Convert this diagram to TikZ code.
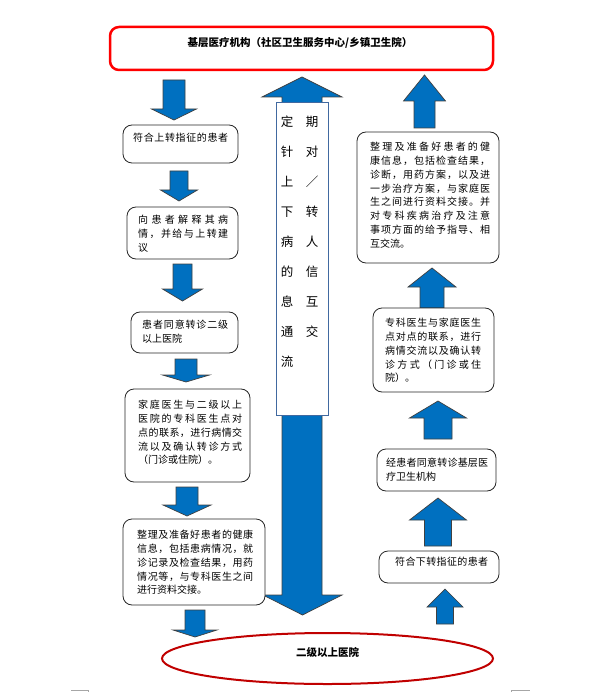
\documentclass[tikz,border=0pt]{standalone}
\usepackage{fontspec}
\setmainfont{Noto Sans CJK SC}
\definecolor{blu}{RGB}{0,112,192}
\definecolor{redt}{RGB}{255,0,0}
\definecolor{redd}{RGB}{192,0,0}
\definecolor{edgeb}{RGB}{65,105,160}
\def\jlend{}
\def\jlfirst#1{#1\jlrest}
\def\jlrest#1{\ifx#1\jlend\else\hfil#1\expandafter\jlrest\fi}
\newcommand\jl[2]{\makebox[#1pt][s]{\jlfirst#2\jlend}}
\newcommand\bodyfont{\fontsize{10}{13.8}\selectfont}
\newcommand\barrow[6]{\filldraw[blockarrow] (#1-#5,#2) -- (#1+#5,#2) -- (#1+#5,#3) -- (#1+#6,#3) -- (#1,#4) -- (#1-#6,#3) -- (#1-#5,#3) -- cycle;}
\tikzset{
  blockarrow/.style={fill=blu, draw=black!75, line width=0.7pt, line join=miter},
  rbox/.style={draw=black!85, line width=0.8pt, rounded corners=9pt, fill=white, inner sep=0pt},
  txt/.style={anchor=north west, align=left, inner sep=0pt, font=\bodyfont},
  vchar/.style={inner sep=0pt, font=\fontsize{12.5}{14}\selectfont},
}
\begin{document}
\begin{tikzpicture}[x=1pt,y=-1pt]
\useasboundingbox (0,0) rectangle (595,692);
% block arrows (left column)
\barrow{174}{80}{109}{120}{11}{22.5}
\barrow{179}{171}{190}{201}{9}{18.5}
\barrow{182.5}{264}{289}{301}{9.5}{20}
\barrow{186}{359}{375}{382}{11}{23.5}
\barrow{187}{487}{505}{516}{11}{24}
\barrow{195}{610}{630}{637}{10}{22}
% block arrows (right column)
\barrow{424.5}{128}{101}{75}{10.5}{21}
\barrow{432}{308}{287}{268}{12}{24}
\barrow{438}{439}{418}{401}{14}{28.5}
\barrow{438}{546}{520}{498}{13.5}{28.5}
\barrow{445}{624}{607}{589}{8.5}{18}
% central double arrow
\filldraw[blockarrow] (282,97) -- (262,97) -- (302,77) -- (342,97) -- (322,97) -- (322,595) -- (342,595) -- (302.5,615) -- (263,595) -- (282,595) -- cycle;
\node[draw=edgeb, fill=white, line width=0.8pt, minimum width=52pt, minimum height=313pt, inner sep=0pt] (vbox) at (302,258.5) {};
\foreach \c [count=\i] in {定,针,上,下,病,的,息,通,流}
  \node[vchar] (vl\i) at (287,92+30*\i) {\c};
\foreach \c [count=\i] in {期,对,／,转,人,信,互,交}
  \node[vchar] (vr\i) at (312,92+30*\i) {\c};
% top box
\node[draw=redt, line width=2.5pt, rounded corners=9pt, minimum width=383pt, minimum height=43pt, inner sep=0pt] (top) at (301.5,48.5) {};
\node[inner sep=0pt, font=\fontsize{10.5}{12}\selectfont\bfseries] (toptxt) at (300,43) {基层医疗机构（社区卫生服务中心/乡镇卫生院）};
% bottom ellipse
\draw[redd, line width=2pt] (327.5,658.5) ellipse [x radius=165.5, y radius=25.5];
\node[inner sep=0pt, font=\fontsize{10.5}{12}\selectfont\bfseries] (bottxt) at (327.5,652) {二级以上医院};
% left boxes
\node[rbox, minimum width=115pt, minimum height=38pt] (L1) at (180.5,144) {};
\node[txt] (L1t) at (133,133) {\jl{95}{符合上转指征的患者}};
\node[rbox, minimum width=111pt, minimum height=52pt] (L2) at (182.5,233) {};
\node[txt] (L2t) at (138,215) {\jl{90}{向患者解释其病}\\\jl{90}{情，并给与上转建}\\议};
\node[rbox, minimum width=107pt, minimum height=41pt] (L3) at (184.5,332.5) {};
\node[txt] (L3t) at (142,320) {\jl{86}{患者同意转诊二级}\\以上医院};
\node[rbox, minimum width=125pt, minimum height=93pt] (L4) at (187.5,435.5) {};
\node[txt] (L4t) at (138,400) {\jl{104}{家庭医生与二级以上}\\\jl{104}{医院的专科医生点对}\\\jl{104}{点的联系，进行病情交}\\\jl{104}{流以及确认转诊方式}\\（门诊或住院）。};
\node[rbox, minimum width=142pt, minimum height=86pt] (L5) at (194,562) {};
\node[txt] (L5t) at (137,530) {\jl{116}{整理及准备好患者的健康}\\\jl{116}{信息，包括患病情况，就}\\\jl{116}{诊记录及检查结果，用药}\\\jl{116}{情况等，与专科医生之间}\\进行资料交接。};
% right boxes
\node[rbox, minimum width=142pt, minimum height=131pt] (R1) at (428,197.5) {};
\node[txt] (R1t) at (370,142) {\jl{120}{整理及准备好患者的健}\\\jl{120}{康信息，包括检查结果，}\\\jl{120}{诊断，用药方案，以及进}\\\jl{120}{一步治疗方案，与家庭医}\\\jl{120}{生之间进行资料交接。并}\\\jl{120}{对专科疾病治疗及注意}\\\jl{120}{事项方面的给予指导、相}\\互交流。};
\node[rbox, minimum width=121pt, minimum height=84pt] (R2) at (433.5,350) {};
\node[txt] (R2t) at (385,318) {\jl{96}{专科医生与家庭医生}\\\jl{96}{点对点的联系，进行}\\\jl{96}{病情交流以及确认转}\\\jl{96}{诊方式（门诊或住}\\院）。};
\node[rbox, minimum width=119pt, minimum height=42pt] (R3) at (436.5,470) {};
\node[txt] (R3t) at (386,458) {\jl{102}{经患者同意转诊基层医}\\疗卫生机构};
\node[rbox, minimum width=120pt, minimum height=32pt] (R4) at (439,567) {};
\node[txt] (R4t) at (395,557) {\jl{93}{符合下转指征的患者}};
% page corner marks
\draw[black!35, line width=0.6pt] (71,690) -- (88,690) -- (88,692);
\draw[black!35, line width=0.6pt] (511,692) -- (511,690) -- (530,690);
\end{tikzpicture}
\end{document}
